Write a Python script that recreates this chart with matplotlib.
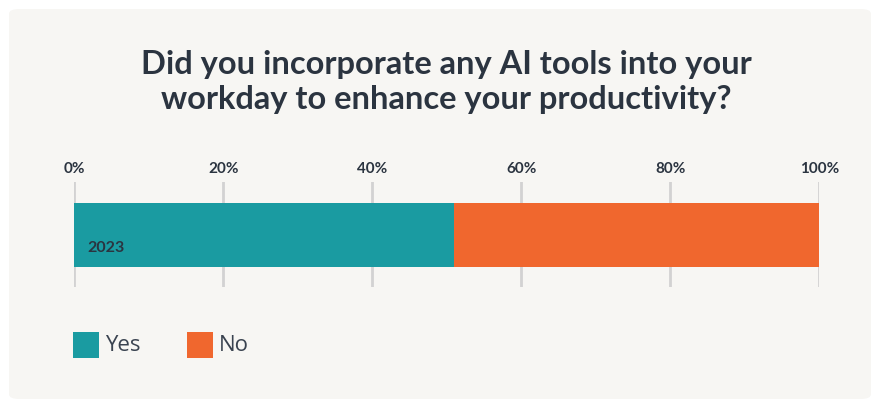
import matplotlib
matplotlib.use("Agg")
import matplotlib.pyplot as plt
from matplotlib.patches import FancyBboxPatch, Rectangle

# Survey answers (share of respondents, %)
years = ["2023"]
yes_share = [51]
no_share = [49]
answers = ["Yes", "No"]
tick_values = [0, 20, 40, 60, 80, 100]
tick_labels = [f"{v}%" for v in tick_values]

title = "Did you incorporate any AI tools into your\nworkday to enhance your productivity?"

TEAL = "#1a9ba1"
ORANGE = "#f0672e"
PANEL = "#f7f6f3"
DARK = "#2b3440"
GRID = "#d2d2d2"

W, H = 873, 402
fig = plt.figure(figsize=(W / 100, H / 100), dpi=100)
fig.patch.set_facecolor("white")

# rounded background card
card = FancyBboxPatch((9 / W, 2 / H), 862 / W, 390 / H,
                      boxstyle="round,pad=0,rounding_size=0.012",
                      transform=fig.transFigure, facecolor=PANEL,
                      edgecolor="none", zorder=-1)
fig.patches.append(card)

fig.text(446 / W, 1 - 82 / H, title, ha="center", va="center",
         fontsize=23.5, fontweight="bold", family="Lato", color=DARK,
         linespacing=1.27, zorder=3)

# axes spanning 0%..100% horizontally, grid lines from 183 to 288 px
x0, x1 = 74.3, 819.3
y_top, y_bot = 183, 288
ax = fig.add_axes([x0 / W, 1 - y_bot / H, (x1 - x0) / W, (y_bot - y_top) / H])
ax.set_zorder(2)
ax.set_facecolor("none")
ax.set_xlim(0, 100)
ax.set_ylim(0, 1)

for v in tick_values:
    ax.axvline(v, color=GRID, linewidth=2, zorder=1)

bar_bottom = (y_bot - 268) / (y_bot - y_top)
bar_h = (268 - 204) / (y_bot - y_top)
for i, yr in enumerate(years):
    ax.barh(bar_bottom, yes_share[i], height=bar_h, left=0, align="edge",
            color=TEAL, zorder=2)
    ax.barh(bar_bottom, no_share[i], height=bar_h, left=yes_share[i],
            align="edge", color=ORANGE, zorder=2)
    ax.text(1.8, bar_bottom + bar_h * 0.31, yr, ha="left", va="center",
            fontsize=11.5, fontweight="bold", family="Lato", color=DARK,
            zorder=3)

ax.xaxis.tick_top()
ax.set_xticks(tick_values)
ax.set_xticklabels(tick_labels, fontsize=11, fontweight="bold",
                   family="Lato", color=DARK)
ax.tick_params(axis="x", length=0, pad=5)
ax.set_yticks([])
for s in ax.spines.values():
    s.set_visible(False)

# legend drawn by hand as squares + labels
leg_x = [73, 187]
for name, color, lx in zip(answers, [TEAL, ORANGE], leg_x):
    fig.patches.append(Rectangle((lx / W, 1 - 359 / H), 26 / W, 26 / H,
                                 transform=fig.transFigure, facecolor=color,
                                 edgecolor="none", zorder=3))
    fig.text((lx + 32) / W, 1 - 346 / H, name, ha="left", va="center",
             fontsize=16, family="Open Sans", color="#3a4350", zorder=3)

fig.savefig("out.png", dpi=100, facecolor=fig.get_facecolor())
